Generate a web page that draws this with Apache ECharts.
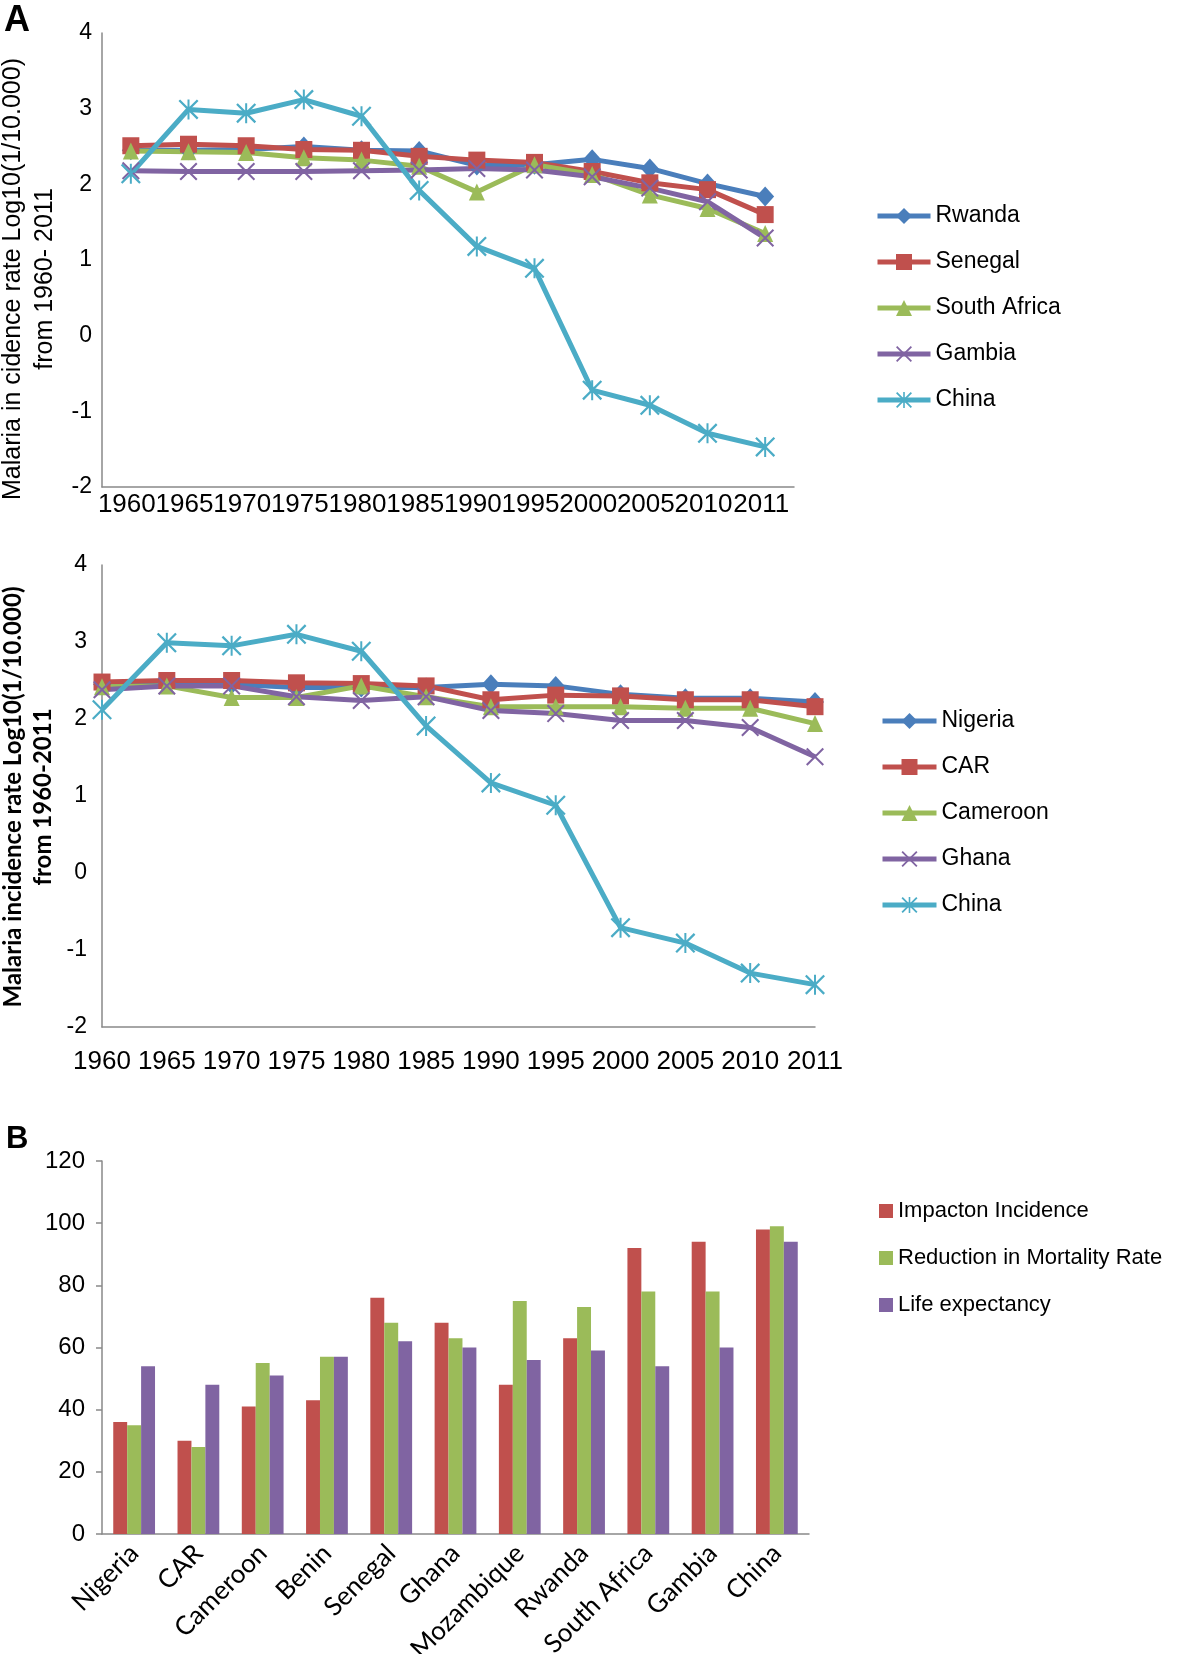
<!DOCTYPE html>
<html>
<head>
    <meta charset="utf-8">
    <title>Malaria incidence</title>
    <style>html, body { margin: 0; padding: 0; background: #fff; }</style>
</head>
<body>
    <div id="main" style="width: 1200px; height: 1654px;"></div>
    <script src="https://cdn.jsdelivr.net/npm/echarts@6/dist/echarts.min.js"></script>
    <script type="text/javascript">
        // years on the x axis of both line charts
        var years = ['1960', '1965', '1970', '1975', '1980', '1985', '1990', '1995', '2000', '2005', '2010', '2011'];

        // panel A, upper chart
        var rwandaA      = [2.45, 2.45, 2.46, 2.50, 2.45, 2.44, 2.25, 2.26, 2.33, 2.21, 2.01, 1.84];
        var senegalA     = [2.51, 2.53, 2.51, 2.46, 2.45, 2.37, 2.32, 2.29, 2.17, 2.02, 1.93, 1.60];
        var southAfricaA = [2.44, 2.43, 2.42, 2.35, 2.32, 2.24, 1.90, 2.26, 2.13, 1.86, 1.68, 1.35];
        var gambiaA      = [2.18, 2.17, 2.17, 2.17, 2.18, 2.19, 2.21, 2.19, 2.10, 1.95, 1.77, 1.29];
        var chinaA       = [2.14, 2.99, 2.94, 3.12, 2.90, 1.92, 1.18, 0.89, -0.72, -0.92, -1.29, -1.47];

        // panel A, lower chart
        var nigeriaB  = [2.45, 2.47, 2.45, 2.41, 2.41, 2.41, 2.45, 2.43, 2.32, 2.27, 2.27, 2.22];
        var carB      = [2.48, 2.50, 2.50, 2.47, 2.46, 2.43, 2.25, 2.31, 2.30, 2.25, 2.25, 2.16];
        var cameroonB = [2.42, 2.43, 2.28, 2.28, 2.43, 2.29, 2.16, 2.16, 2.16, 2.14, 2.14, 1.94];
        var ghanaB    = [2.38, 2.43, 2.43, 2.29, 2.24, 2.29, 2.11, 2.07, 1.98, 1.98, 1.89, 1.51];
        var chinaB    = [2.12, 2.99, 2.95, 3.10, 2.88, 1.91, 1.17, 0.88, -0.71, -0.91, -1.30, -1.45];

        // panel B
        var countries  = ['Nigeria', 'CAR', 'Cameroon', 'Benin', 'Senegal', 'Ghana', 'Mozambique', 'Rwanda', 'South Africa', 'Gambia', 'China'];
        var incidence  = [36, 30, 41, 43, 76, 68, 48, 63, 92, 94, 98];
        var mortality  = [35, 28, 55, 57, 68, 63, 75, 73, 78, 78, 99];
        var lifeExp    = [54, 48, 51, 57, 62, 60, 56, 59, 54, 60, 94];

        var blue = '#4a7ebb', red = '#c0504d', green = '#9bbb59', purple = '#8064a2', cyan = '#4bacc6';
        var axisGray = '#898989';
        var xMark = 'path://M0,0.8L0.8,0L10,9.2L9.2,10Z M9.2,0L10,0.8L0.8,10L0,9.2Z';
        var starMark = xMark + ' M4.5,0L5.5,0L5.5,10L4.5,10Z';

        function lineSeries(name, data, color, symbol, size, xi, yi) {
            return {
                type: 'line',
                name: name,
                data: data,
                xAxisIndex: xi,
                yAxisIndex: yi,
                symbol: symbol,
                symbolSize: size,
                lineStyle: { width: 5, color: color },
                itemStyle: { color: color, borderWidth: 0 },
                emphasis: { disabled: true },
                animation: false
            };
        }

        function barSeries(name, data, color) {
            return {
                type: 'bar',
                name: name,
                data: data,
                xAxisIndex: 3,
                yAxisIndex: 2,
                barGap: '0%',
                barCategoryGap: '35%',
                itemStyle: { color: color },
                emphasis: { disabled: true },
                animation: false
            };
        }

        var legendBase = {
            orient: 'vertical',
            selectedMode: false,
            itemHeight: 20,
            itemGap: 22,
            lineStyle: { width: 5 },
            textStyle: { fontSize: 23, color: '#000', lineHeight: 24, fontFamily: 'Liberation Sans' }
        };

        var chartDom = document.getElementById('main');
        var myChart = echarts.init(chartDom);
        var option = {
            backgroundColor: '#fff',
            animation: false,
            textStyle: { fontFamily: 'Liberation Sans' },
            grid: [
                { left: 102, top: 33, width: 692, height: 454, outerBoundsMode: 'none' },
                { left: 102, top: 565, width: 713, height: 462, outerBoundsMode: 'none' },
                { left: 102, top: 1161, width: 707, height: 373, outerBoundsMode: 'none' }
            ],
            xAxis: [
                {
                    gridIndex: 0, type: 'category', data: years, boundaryGap: true,
                    axisLine: { onZero: false, lineStyle: { color: axisGray, width: 1.5 } },
                    axisTick: { alignWithLabel: true, inside: true, length: 5, lineStyle: { color: axisGray, width: 1.5 } },
                    axisLabel: { color: '#000', fontSize: 26, margin: 5, interval: 0, hideOverlap: false, padding: [0, 8, 0, 0] }
                },
                {
                    gridIndex: 1, type: 'category', data: years, boundaryGap: false,
                    axisLine: { onZero: false, lineStyle: { color: axisGray, width: 1.5 } },
                    axisTick: { show: false },
                    axisLabel: { color: '#000', fontSize: 26, margin: 22, interval: 0, hideOverlap: false }
                },
                {
                    // tick marks between the years of the lower line chart
                    gridIndex: 1, type: 'category', data: years.slice(1), boundaryGap: true,
                    axisLine: { show: false, onZero: false },
                    axisTick: { alignWithLabel: true, inside: true, length: 6, interval: 0, lineStyle: { color: axisGray, width: 1.5 } },
                    axisLabel: { show: false }
                },
                {
                    gridIndex: 2, type: 'category', data: countries, boundaryGap: true,
                    axisLine: { onZero: false, lineStyle: { color: axisGray, width: 1.5 } },
                    axisTick: { length: 7, interval: 0, lineStyle: { color: axisGray, width: 1.5 } },
                    axisLabel: { color: '#000', fontSize: 26, fontFamily: 'Lato', rotate: 45, margin: 15, interval: 0, hideOverlap: false }
                }
            ],
            yAxis: [
                {
                    gridIndex: 0, type: 'value', min: -2, max: 4, interval: 1,
                    splitLine: { show: false },
                    axisLine: { show: true, lineStyle: { color: axisGray, width: 1.5 } },
                    axisTick: { show: false },
                    axisLabel: { color: '#000', fontSize: 23, margin: 10 }
                },
                {
                    gridIndex: 1, type: 'value', min: -2, max: 4, interval: 1,
                    splitLine: { show: false },
                    axisLine: { show: true, lineStyle: { color: axisGray, width: 1.5 } },
                    axisTick: { show: false },
                    axisLabel: { color: '#000', fontSize: 23, margin: 15 }
                },
                {
                    gridIndex: 2, type: 'value', min: 0, max: 120, interval: 20,
                    splitLine: { show: false },
                    axisLine: { show: true, lineStyle: { color: axisGray, width: 1.5 } },
                    axisTick: { show: true, length: 6, lineStyle: { color: axisGray, width: 1.5 } },
                    axisLabel: { color: '#000', fontSize: 24, margin: 17 }
                }
            ],
            legend: [
                Object.assign({}, legendBase, {
                    left: 870, top: 199, itemWidth: 53,
                    data: ['Rwanda', 'Senegal', 'South Africa', 'Gambia', 'China']
                }),
                Object.assign({}, legendBase, {
                    left: 875, top: 704, itemWidth: 54,
                    data: ['Nigeria', 'CAR', 'Cameroon', 'Ghana', 'China']
                }),
                Object.assign({}, legendBase, {
                    left: 874, top: 1194, itemWidth: 14, itemHeight: 14, itemGap: 23, icon: 'rect',
                    textStyle: { fontSize: 22, color: '#000', lineHeight: 24, fontFamily: 'Liberation Sans' },
                    data: ['Impacton Incidence', 'Reduction in Mortality Rate', 'Life expectancy']
                })
            ],
            graphic: [
                { type: 'text', left: 4, top: 3, style: { text: 'A', font: 'bold 36px "Liberation Sans"', fill: '#000' } },
                { type: 'text', left: 6, top: 1124, style: { text: 'B', font: 'bold 31px "Liberation Sans"', fill: '#000' } },
                {
                    type: 'text', x: 29, y: 279, rotation: Math.PI / 2,
                    style: {
                        text: 'Malaria in cidence rate Log10(1/10.000)\nfrom 1960- 2011',
                        font: '25px "Liberation Sans"', fill: '#000',
                        align: 'center', verticalAlign: 'middle', lineHeight: 32
                    }
                },
                {
                    type: 'text', x: 28, y: 797, rotation: Math.PI / 2,
                    style: {
                        text: 'Malaria incidence rate Log10(1/10.000)\nfrom 1960-2011',
                        font: 'bold 24px Lato', fill: '#000',
                        align: 'center', verticalAlign: 'middle', lineHeight: 30
                    }
                }
            ],
            series: [
                lineSeries('Rwanda', rwandaA, blue, 'diamond', [18, 20], 0, 0),
                lineSeries('Senegal', senegalA, red, 'rect', 17, 0, 0),
                lineSeries('South Africa', southAfricaA, green, 'triangle', [16, 17], 0, 0),
                lineSeries('Gambia', gambiaA, purple, xMark, 18, 0, 0),
                lineSeries('China', chinaA, cyan, starMark, [20, 20], 0, 0),

                lineSeries('Nigeria', nigeriaB, blue, 'diamond', [18, 20], 1, 1),
                lineSeries('CAR', carB, red, 'rect', 17, 1, 1),
                lineSeries('Cameroon', cameroonB, green, 'triangle', [16, 17], 1, 1),
                lineSeries('Ghana', ghanaB, purple, xMark, 18, 1, 1),
                lineSeries('China', chinaB, cyan, starMark, [20, 20], 1, 1),

                barSeries('Impacton Incidence', incidence, red),
                barSeries('Reduction in Mortality Rate', mortality, green),
                barSeries('Life expectancy', lifeExp, purple)
            ]
        };
        myChart.setOption(option);
    </script>
</body>
</html>
